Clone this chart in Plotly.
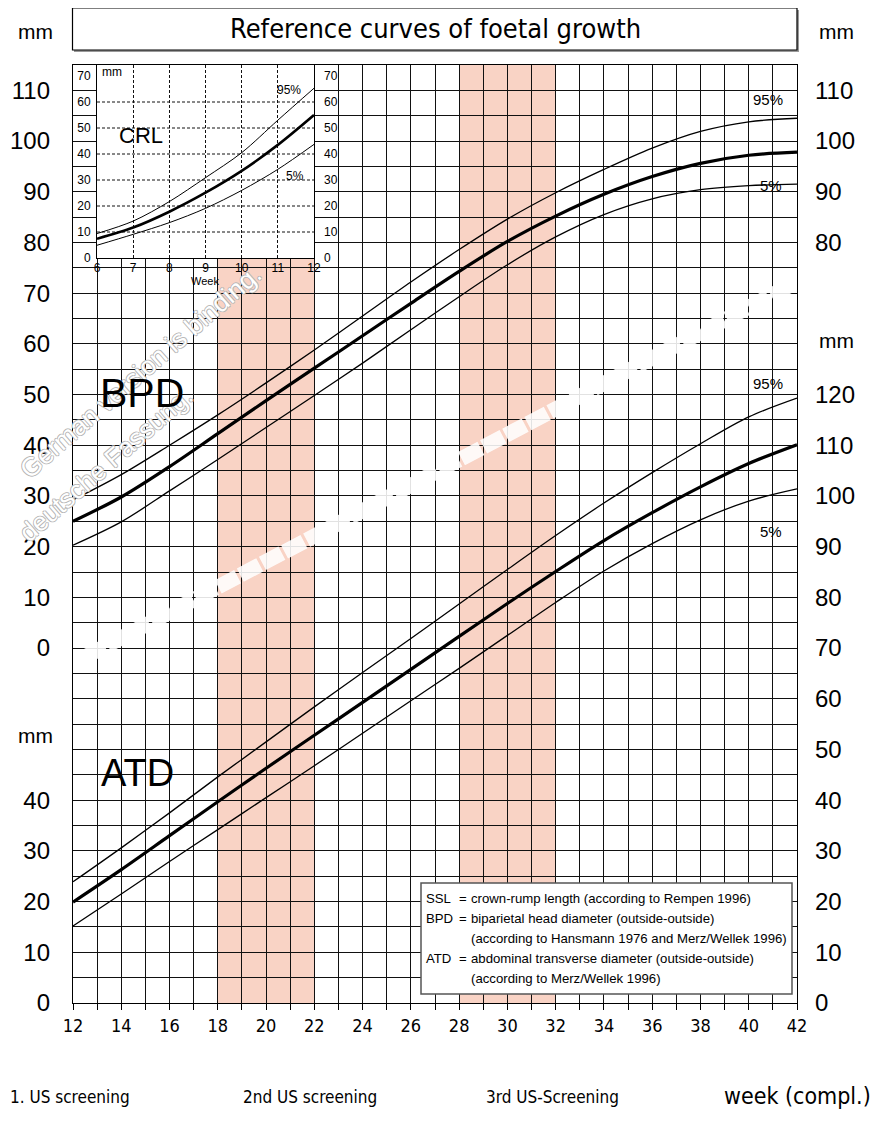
import plotly.graph_objects as go

# ---------------- data ----------------
weeks = [12, 14, 16, 18, 20, 22, 24, 26, 28, 30, 32, 34, 36, 38, 40, 42]

bpd_p5 = [20.3, 24.9, 31.0, 37.2, 43.5, 49.8, 56.2, 62.8, 69.3, 75.6, 81.1, 85.5, 88.6, 90.4, 91.2, 91.5]
bpd_p50 = [25.0, 29.8, 35.8, 42.3, 48.8, 55.2, 61.6, 68.0, 74.3, 80.2, 85.2, 89.5, 93.0, 95.6, 97.2, 97.8]
bpd_p95 = [29.2, 34.2, 40.0, 46.0, 52.3, 58.8, 65.5, 72.2, 78.6, 84.6, 89.8, 94.4, 98.6, 101.9, 103.8, 104.5]

atd_p5 = [15.2, 21.5, 27.9, 34.2, 40.5, 46.8, 53.2, 59.6, 66.0, 72.5, 79.0, 85.2, 90.6, 95.3, 99.0, 101.4]
atd_p50 = [19.9, 26.3, 33.0, 39.7, 46.3, 52.8, 59.3, 65.8, 72.3, 78.8, 85.1, 91.2, 96.7, 101.8, 106.4, 110.1]
atd_p95 = [23.9, 30.6, 37.5, 44.6, 51.5, 58.4, 65.2, 71.9, 78.7, 85.5, 92.2, 98.6, 104.6, 110.3, 115.6, 119.3]

crl_weeks = [6, 7, 8, 9, 10, 11, 12]
crl_p5 = [4.9, 9.1, 13.6, 19.1, 26.0, 34.1, 43.7]
crl_p50 = [7.4, 11.7, 17.8, 25.1, 33.5, 43.5, 55.0]
crl_p95 = [9.4, 14.2, 21.7, 30.9, 40.5, 53.0, 65.3]

BPD_ZERO_ON_ATD = 70  # BPD scale 0 sits at ATD 70 mm

left_tick_vals = [180, 170, 160, 150, 140, 130, 120, 110, 100, 90, 80, 70, 40, 30, 20, 10, 0]
left_tick_text = ["110", "100", "90", "80", "70", "60", "50", "40", "30", "20", "10", "0",
                  "40", "30", "20", "10", "0"]
right_tick_vals = [180, 170, 160, 150, 120, 110, 100, 90, 80, 70, 60, 50, 40, 30, 20, 10, 0]
right_tick_text = ["110", "100", "90", "80", "120", "110", "100", "90", "80", "70", "60",
                   "50", "40", "30", "20", "10", "0"]
x_tick_vals = list(range(12, 43))
x_tick_text = [str(w) if w % 2 == 0 else "" for w in x_tick_vals]

crl_tick_vals = [0, 10, 20, 30, 40, 50, 60, 70]
crl_week_ticks = [6, 7, 8, 9, 10, 11, 12]

screening_windows = [(18, 22), (28, 32)]

title_text = "Reference curves of foetal growth"
legend_rows = [
    ("SSL", "=", "crown-rump length (according to Rempen 1996)"),
    ("BPD", "=", "biparietal head diameter (outside-outside)"),
    ("", "", "(according to Hansmann 1976 and Merz/Wellek 1996)"),
    ("ATD", "=", "abdominal transverse diameter (outside-outside)"),
    ("", "", "(according to Merz/Wellek 1996)"),
]
bottom_texts = ["1. US screening", "2nd US screening", "3rd US-Screening"]
watermark = ["German version is binding.", "deutsche Fassung."]

# ---------------- geometry helpers (window pixel coords) ----------------
OFF = 8                      # page body margin
W, H = 880 - OFF, 1122 - OFF
X0, X1 = 73, 797             # plot area in window px
Y0, Y1 = 65, 1003
PW, PH = X1 - X0, Y1 - Y0
L, T = X0 - OFF, Y0 - OFF
R, B = W - L - PW, H - T - PH
Y_TOP = 185


def px(xp):
    return (xp - X0) / PW


def py(yp):
    return (Y1 - yp) / PH


NARROW = "Liberation Sans Narrow, Arial Narrow, DejaVu Sans Condensed, sans-serif"
SANS = "Liberation Sans, Arial, Helvetica, sans-serif"
INK = "#111111"
PINK = "#F9D3C5"

fig = go.Figure()


def add_curve(x, y, width, xa="x", ya="y"):
    fig.add_trace(go.Scatter(x=x, y=y, mode="lines", xaxis=xa, yaxis=ya,
                             line=dict(color="black", width=width, shape="spline", smoothing=0.9),
                             hoverinfo="skip", showlegend=False))


for arr, w in [(bpd_p5, 1.3), (bpd_p50, 3.2), (bpd_p95, 1.3)]:
    add_curve(weeks, [v + BPD_ZERO_ON_ATD for v in arr], w)
for arr, w in [(atd_p5, 1.3), (atd_p50, 3.2), (atd_p95, 1.3)]:
    add_curve(weeks, arr, w)
for arr, w in [(crl_p5, 1.0), (crl_p50, 2.6), (crl_p95, 1.0)]:
    add_curve(crl_weeks, arr, w, "x2", "y2")

fig.add_trace(go.Scatter(x=[12], y=[0], yaxis="y3", mode="markers",
                         marker=dict(opacity=0), hoverinfo="skip", showlegend=False))
fig.add_trace(go.Scatter(x=[6], y=[0], xaxis="x2", yaxis="y4", mode="markers",
                         marker=dict(opacity=0), hoverinfo="skip", showlegend=False))

shapes = []
for a, b in screening_windows:
    shapes.append(dict(type="rect", xref="x", yref="y", x0=a, x1=b, y0=0, y1=Y_TOP,
                       fillcolor=PINK, line=dict(width=0), layer="below"))
# white diagonal separator band
shapes.append(dict(type="line", xref="x", yref="y", x0=11.6, y0=66.0, x1=42.3, y1=143.0,
                   line=dict(color="white", width=15, dash="22px,3px"), opacity=0.88,
                   layer="between"))
# white area behind inset
shapes.append(dict(type="rect", xref="x", yref="y", x0=13, x1=22,
                   y0=(Y1 - 258) / (PH / Y_TOP), y1=Y_TOP,
                   fillcolor="white", line=dict(width=0), layer="between"))
for v in [10, 20, 30, 40, 50, 60]:
    shapes.append(dict(type="line", xref="x2", yref="y2", x0=6, x1=12, y0=v, y1=v,
                       line=dict(color=INK, width=1, dash="3px,2px"), layer="between"))
# title box
shapes.append(dict(type="rect", xref="paper", yref="paper", x0=px(74), x1=px(799),
                   y0=py(52), y1=py(10), fillcolor="#999999", line=dict(width=0), layer="above"))
shapes.append(dict(type="rect", xref="paper", yref="paper", x0=px(72.5), x1=px(797),
                   y0=py(50), y1=py(8), fillcolor="white", line=dict(color="black", width=1.2),
                   layer="above"))
# legend box
shapes.append(dict(type="rect", xref="paper", yref="paper", x0=px(421), x1=px(792),
                   y0=py(994), y1=py(883), fillcolor="white", line=dict(color="#555555", width=1.5),
                   layer="above"))

ann = []


def text(xp, yp, s, size, family=SANS, xanchor="center", color="black", font_extra=None, **kw):
    f = dict(size=size, family=family, color=color)
    if font_extra:
        f.update(font_extra)
    ann.append(dict(xref="paper", yref="paper", x=px(xp), y=py(yp), text=s, showarrow=False,
                    xanchor=xanchor, yanchor="middle", font=f, **kw))


wm_font = dict(shadow="1px 0 #b5b5b5, -1px 0 #b5b5b5, 0 1px #b5b5b5, 0 -1px #b5b5b5")
text(140, 372, watermark[0], 26, color="white", textangle=-41, font_extra=wm_font)
text(106, 464, watermark[1], 26, color="white", textangle=-41, font_extra=wm_font)

text(435, 29, title_text, 27, NARROW)
text(35, 32, "mm", 21)
text(836, 32, "mm", 21)
text(836, 340, "mm", 21)
text(35, 735, "mm", 21)
text(142, 393, "BPD", 41)
text(137, 773, "ATD", 38)
text(768, 99, "95%", 15)
text(771, 185, "5%", 15)
text(768, 383, "95%", 15)
text(771, 531, "5%", 15)
text(100, 72, "mm", 12, xanchor="left")
text(141, 135, "CRL", 22)
text(289, 90, "95%", 12)
text(295, 176, "5%", 12)
text(205, 281, "Week", 11)

for i, (lab, eq, desc) in enumerate(legend_rows):
    yy = 898 + i * 20
    if lab:
        text(424, yy, lab, 13.2, xanchor="left")
        text(457, yy, eq, 13.2, xanchor="left")
    text(469, yy, desc, 13.2, xanchor="left")

for xp, s in zip([8, 241, 484], bottom_texts):
    text(xp, 1097, s, 17, NARROW, xanchor="left")
text(722, 1096, "week (compl.)", 23, NARROW, xanchor="left")

fig.update_layout(
    width=W, height=H,
    margin=dict(l=L, r=R, t=T, b=B, pad=0, autoexpand=False),
    paper_bgcolor="white", plot_bgcolor="white",
    showlegend=False,
    shapes=shapes, annotations=ann,
    xaxis=dict(range=[12, 42], tickvals=x_tick_vals, ticktext=x_tick_text, automargin=False,
               showgrid=True, gridcolor=INK, gridwidth=1, zeroline=False,
               showline=True, linecolor="black", linewidth=1.3, mirror=True,
               ticks="outside", ticklen=6, tickcolor="black", tickwidth=1,
               tickfont=dict(family=NARROW, size=18, color="black")),
    yaxis=dict(range=[0, Y_TOP], tickvals=[v for v in range(0, Y_TOP + 1, 5)], automargin=False,
               ticktext=[left_tick_text[left_tick_vals.index(v)] if v in left_tick_vals else ""
                         for v in range(0, Y_TOP + 1, 5)],
               showgrid=True, gridcolor=INK, gridwidth=1, zeroline=False,
               showline=True, linecolor="black", linewidth=1.3, mirror=True,
               ticks="", ticklabelstandoff=17,
               tickfont=dict(family=SANS, size=24, color="black")),
    yaxis3=dict(range=[0, Y_TOP], overlaying="y", side="right", tickvals=right_tick_vals,
                ticktext=right_tick_text, showgrid=False, zeroline=False, showline=False,
                ticks="", ticklabelstandoff=17, automargin=False,
                tickfont=dict(family=SANS, size=24, color="black")),
    xaxis2=dict(domain=[px(97), px(314)], anchor="y2", range=[6, 12], tickvals=crl_week_ticks,
                showgrid=True, gridcolor=INK, gridwidth=1, griddash="3px,2px", zeroline=False,
                showline=True, linecolor="black", linewidth=1, mirror=True, ticks="",
                ticklabelstandoff=-1, automargin=False,
                tickfont=dict(family=SANS, size=12, color="black")),
    yaxis2=dict(domain=[py(258), 1.0], anchor="x2", range=[0, (258 - 65) / 2.6],
                tickvals=crl_tick_vals, showgrid=False, zeroline=False,
                showline=True, linecolor="black", linewidth=1, mirror=True, ticks="",
                ticklabelstandoff=3, automargin=False,
                tickfont=dict(family=SANS, size=12, color="black")),
    yaxis4=dict(range=[0, (258 - 65) / 2.6], overlaying="y2", side="right", anchor="x2",
                tickvals=crl_tick_vals, showgrid=False, zeroline=False, showline=False,
                ticks="", ticklabelstandoff=9, automargin=False,
                tickfont=dict(family=SANS, size=12, color="black")),
)

fig.write_html("out.html")
